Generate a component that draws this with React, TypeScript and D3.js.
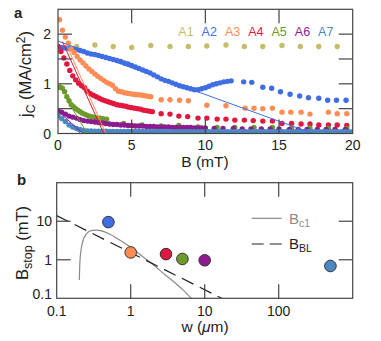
import React, { useEffect, useRef } from 'react';
import * as d3 from 'd3';

// sample names + colours (panel a legend and panel b markers)
const names = ['A1', 'A2', 'A3', 'A4', 'A5', 'A6', 'A7'];
const colors = ['#c6bd6c', '#3f6ee4', '#ff8c55', '#e1173f', '#6c9a2b', '#8b1b8f', '#4a88c2'];

// panel a: jc (MA/cm2) vs B (mT)
const a1B = [1.27, 2.5, 3.75, 5.0, 6.3, 7.6, 8.85, 10.1, 11.4, 12.65, 13.9, 15.2, 16.45, 17.7, 18.95];
const a1J = [1.75, 1.78, 1.75, 1.73, 1.77, 1.75, 1.75, 1.76, 1.78, 1.75, 1.75, 1.77, 1.75, 1.75, 1.75];

const a2B = [0, 0.25, 0.5, 0.75, 1, 1.25, 1.5, 1.75, 2, 2.25, 2.5, 2.75, 3, 3.25, 3.5, 3.75, 4, 4.25, 4.5, 4.75,
  5, 5.25, 5.5, 5.75, 6, 6.25, 6.5, 6.75, 7, 7.25, 7.5, 7.75, 8, 8.25, 8.5, 8.75, 9, 9.25, 9.5, 9.75,
  10, 10.25, 10.5, 10.75, 11, 11.25, 11.5, 11.75,
  12.6, 13.15, 13.9, 14.5, 15.1, 15.75, 16.4, 17.0, 17.7, 18.3, 18.9, 19.55];
const a2J = [1.74, 1.73, 1.72, 1.71, 1.70, 1.69, 1.67, 1.65, 1.62, 1.60, 1.59, 1.57, 1.55, 1.53, 1.51, 1.49, 1.47, 1.45, 1.42, 1.40,
  1.37, 1.34, 1.31, 1.28, 1.25, 1.22, 1.18, 1.14, 1.10, 1.07, 1.05, 1.02, 0.99, 0.96, 0.94, 0.92, 0.90, 0.88, 0.88, 0.90,
  0.92, 0.95, 0.98, 1.00, 1.02, 1.04, 1.05, 1.06,
  1.04, 1.03, 0.93, 0.91, 0.84, 0.79, 0.755, 0.72, 0.71, 0.67, 0.67, 0.67];

const a3B = [0.1, 0.3, 0.5, 0.7, 0.9, 1.1, 1.3, 1.5, 1.7, 1.9, 2.1, 2.3, 2.5, 2.7, 2.9, 3.1, 3.3, 3.5, 3.7, 3.9,
  4.1, 4.3, 4.5, 4.7, 4.9, 5.1, 5.3, 5.5, 5.7, 5.9, 6.1, 6.3,
  7.0, 7.6, 8.25, 8.85, 10.1, 11.4, 12.7, 13.3, 13.9, 14.55, 15.2, 15.8, 16.5, 17.1, 18.35, 18.95, 19.6];
const a3J = [2.29, 2.08, 1.94, 1.82, 1.70, 1.63, 1.55, 1.48, 1.42, 1.36, 1.30, 1.25, 1.20, 1.15, 1.11, 1.07, 1.03, 1.00, 0.97, 0.90,
  0.85, 0.84, 0.82, 0.81, 0.80, 0.79, 0.78, 0.78, 0.77, 0.76, 0.75, 0.74,
  0.68, 0.68, 0.67, 0.66, 0.57, 0.56, 0.51, 0.51, 0.50, 0.51, 0.43, 0.43, 0.43, 0.39, 0.43, 0.40, 0.40];

const a4B = [0, 0.2, 0.4, 0.6, 0.8, 1.0, 1.2, 1.4, 1.6, 1.8, 2.0, 2.2, 2.4, 2.6, 2.8, 3.0, 3.2, 3.4, 3.6, 3.8,
  4.0, 4.2, 4.4, 4.6, 4.8, 5.0, 5.2, 5.4, 5.6, 5.8, 6.0, 6.2, 6.4,
  7.0, 7.6, 8.2, 8.8, 9.5, 10.1, 10.8, 11.4, 12.0, 12.65, 13.25, 13.9, 14.55, 15.2, 15.85, 16.5, 17.1, 17.7, 18.35, 18.95, 19.6];
const a4J = [1.75, 1.65, 1.52, 1.40, 1.27, 1.16, 1.08, 1.01, 0.96, 0.92, 0.85, 0.80, 0.77, 0.74, 0.71, 0.68, 0.66, 0.64, 0.62, 0.60,
  0.58, 0.57, 0.56, 0.55, 0.53, 0.52, 0.51, 0.50, 0.49, 0.47, 0.46, 0.45, 0.44,
  0.40, 0.39, 0.35, 0.34, 0.31, 0.31, 0.29, 0.29, 0.27, 0.27, 0.26, 0.25, 0.25, 0.20, 0.20, 0.19, 0.19, 0.17, 0.17, 0.17, 0.16];

const a5B = [0, 0.15, 0.3, 0.45, 0.6, 0.75, 0.9, 1.05, 1.2, 1.35, 1.5, 1.65, 1.8, 1.95, 2.1, 2.25, 2.4, 2.55, 2.7, 2.85, 3.0, 3.15, 3.3,
  4.45, 5.7, 7.0, 8.2, 9.5, 10.8, 12.0, 13.3, 14.55, 15.85, 17.1, 18.35, 19.6];
const a5J = [0.93, 0.93, 0.91, 0.84, 0.74, 0.66, 0.58, 0.54, 0.50, 0.47, 0.44, 0.41, 0.39, 0.37, 0.35, 0.34, 0.33, 0.32, 0.31, 0.31, 0.30, 0.29, 0.29,
  0.20, 0.17, 0.15, 0.16, 0.13, 0.12, 0.12, 0.12, 0.12, 0.11, 0.11, 0.10, 0.10];

const a6B = [0, 0.25, 0.5, 0.75, 1, 1.25, 1.5, 1.75, 2, 2.25, 2.5, 2.75, 3, 3.25, 3.5, 3.75, 4, 4.25, 4.5, 4.75,
  5, 5.25, 5.5, 5.75, 6, 6.25, 6.5, 6.75, 7, 7.25, 7.5, 7.75, 8, 8.25, 8.5, 8.75, 9, 9.25, 9.5, 9.75, 10,
  10.6, 11.2, 11.9, 12.5, 13.1, 13.8, 14.4, 15.0, 15.7, 16.3, 16.9, 17.6, 18.2, 18.8, 19.5];
const a6J = [0.46, 0.43, 0.39, 0.35, 0.33, 0.31, 0.28, 0.26, 0.25, 0.24, 0.23, 0.22, 0.21, 0.20, 0.19, 0.18, 0.18, 0.17, 0.17, 0.16,
  0.16, 0.15, 0.15, 0.15, 0.14, 0.14, 0.14, 0.13, 0.13, 0.13, 0.13, 0.12, 0.12, 0.12, 0.12, 0.12, 0.12, 0.11, 0.11, 0.11, 0.11,
  0.10, 0.10, 0.10, 0.09, 0.09, 0.09, 0.09, 0.09, 0.08, 0.08, 0.08, 0.08, 0.08, 0.08, 0.08];

const a7B = [0, 0.25, 0.5, 0.75, 1, 1.25, 1.5, 1.75, 2, 2.25, 2.5, 2.75, 3, 3.25, 3.5, 3.75, 4, 4.25, 4.5, 4.75,
  5, 5.25, 5.5, 5.75, 6, 6.25, 6.5, 6.75, 7, 7.25, 7.5, 7.75, 8, 8.25, 8.5, 8.75, 9, 9.25, 9.5, 9.75,
  10, 10.25, 10.5, 10.75, 11, 11.25, 11.5, 11.75, 12, 12.25, 12.5, 12.75, 13, 13.25, 13.5, 13.75, 14, 14.25, 14.5, 14.75,
  15, 15.25, 15.5, 15.75, 16, 16.25, 16.5, 16.75, 17, 17.25, 17.5, 17.75, 18, 18.25, 18.5, 18.75, 19, 19.25, 19.5, 19.75, 20];
const a7J = [0.36, 0.30, 0.24, 0.17, 0.13, 0.10, 0.08, 0.06, 0.05, 0.05, 0.045, 0.045, 0.045, 0.045, 0.04, 0.04, 0.04, 0.04, 0.04, 0.04,
  0.04, 0.04, 0.04, 0.04, 0.04, 0.04, 0.04, 0.04, 0.04, 0.04, 0.035, 0.035, 0.035, 0.035, 0.035, 0.035, 0.035, 0.035, 0.035, 0.035,
  0.035, 0.035, 0.035, 0.035, 0.035, 0.035, 0.035, 0.035, 0.035, 0.035, 0.035, 0.035, 0.035, 0.035, 0.035, 0.035, 0.035, 0.035, 0.035, 0.035,
  0.035, 0.035, 0.035, 0.035, 0.035, 0.035, 0.035, 0.035, 0.035, 0.035, 0.035, 0.035, 0.035, 0.035, 0.035, 0.035, 0.035, 0.035, 0.035, 0.035, 0.035];

// thin straight guide lines in panel a: [B start, B end], [j start, j end]
const fitNames = ['A2', 'A3', 'A4', 'A5', 'A6', 'A7'];
const fitB = [[0, 17.3], [0.55, 3.25], [0.3, 3.1], [0.66, 2.0], [0, 1.7], [0, 1.55]];
const fitJ = [[1.86, 0], [1.8, 0], [1.85, 0], [0.65, 0], [0.45, 0], [0.33, 0]];

// panel b: Bstop (mT) vs width w (um)
const stopNames = ['A2', 'A3', 'A4', 'A5', 'A6', 'A7'];
const stopW = [0.5, 1, 3, 5, 10, 500];
const stopB = [9.5, 1.55, 1.4, 1.05, 0.97, 0.69];

const bc1W = [0.202, 0.205, 0.21, 0.22, 0.25, 0.3, 0.35, 0.4, 0.5, 0.7, 1, 1.5, 2, 3, 4, 5, 6.6];
const bc1B = [0.3, 0.75, 1.4, 2.5, 4.6, 5.8, 5.9, 5.6, 4.8, 3.3, 2.1, 1.15, 0.75, 0.39, 0.25, 0.17, 0.1];
const bblW = [0.1, 17];
const bblB = [14, 0.1];

const xTicksA = [0, 5, 10, 15, 20];
const yTicksA = [0, 0.5, 1, 1.5, 2];
const yLabelsA = [0, 1, 2];
const xTicksB = [0.1, 1, 10, 100];
const yTicksB = [0.1, 1, 10];

const FONT = '"Liberation Sans", Arial, sans-serif';
const AXIS = '#444';

function App() {
  const ref = useRef<SVGSVGElement>(null);

  useEffect(() => {
    const svg = d3.select(ref.current);
    svg.selectAll('*').remove();
    svg.attr('font-family', FONT);

    const colorOf = (n: string) => colors[names.indexOf(n)];

    // ---------- panel a ----------
    const x = d3.scaleLinear().domain([0, 20]).range([58, 352.7]);
    const y = d3.scaleLinear().domain([0, 2.5]).range([133.5, 9.3]);

    svg.append('clipPath').attr('id', 'clipA').append('rect')
      .attr('x', 58).attr('y', 9.3).attr('width', 294.7).attr('height', 124.2);

    const gA = svg.append('g').attr('clip-path', 'url(#clipA)');
    const all = [[a1B, a1J], [a2B, a2J], [a3B, a3J], [a4B, a4J], [a5B, a5J], [a6B, a6J], [a7B, a7J]];
    all.forEach(([bs, js], k) => {
      gA.append('g').selectAll('circle')
        .data(bs.map((b, i) => [b, js[i]]))
        .enter().append('circle')
        .attr('cx', d => x(d[0]))
        .attr('cy', d => y(d[1]))
        .attr('r', 2.7)
        .attr('fill', colors[k]);
    });

    const line = d3.line<number[]>().x(d => x(d[0])).y(d => y(d[1]));
    fitNames.forEach((n, k) => {
      gA.append('path')
        .attr('d', line(fitB[k].map((b, i) => [b, fitJ[k][i]])))
        .attr('fill', 'none')
        .attr('stroke', colorOf(n))
        .attr('stroke-width', 1);
    });

    svg.append('rect').attr('x', 58).attr('y', 9.3).attr('width', 294.7).attr('height', 124.2)
      .attr('fill', 'none').attr('stroke', AXIS).attr('stroke-width', 1.2);

    const tk = svg.append('g').attr('stroke', AXIS).attr('stroke-width', 1.2);
    xTicksA.filter(t => t > 0 && t < 20).forEach(t => {
      tk.append('line').attr('x1', x(t)).attr('x2', x(t)).attr('y1', 133.5).attr('y2', 119.5);
      tk.append('line').attr('x1', x(t)).attr('x2', x(t)).attr('y1', 9.3).attr('y2', 23.3);
    });
    yTicksA.filter(t => t > 0).forEach(t => {
      tk.append('line').attr('x1', 58).attr('x2', 72).attr('y1', y(t)).attr('y2', y(t));
      tk.append('line').attr('x1', 352.7).attr('x2', 338.7).attr('y1', y(t)).attr('y2', y(t));
    });

    svg.append('g').selectAll('text').data(xTicksA).enter().append('text')
      .attr('x', d => x(d)).attr('y', 149.5).attr('text-anchor', 'middle')
      .attr('font-size', 14).attr('fill', '#222').text(d => d);
    svg.append('g').selectAll('text').data(yLabelsA).enter().append('text')
      .attr('x', 51).attr('y', d => y(d) + 5).attr('text-anchor', 'end')
      .attr('font-size', 14).attr('fill', '#222').text(d => d);

    svg.append('text').attr('x', 205).attr('y', 166.5).attr('text-anchor', 'middle')
      .attr('font-size', 15.5).attr('fill', '#222').text('B (mT)');

    const yl = svg.append('text').attr('transform', 'translate(31,74) rotate(-90)')
      .attr('text-anchor', 'middle').attr('font-size', 16.5).attr('fill', '#222');
    yl.append('tspan').text('j');
    yl.append('tspan').attr('font-size', 12).attr('dy', 4).text('C');
    yl.append('tspan').attr('dy', -4).text(' (MA/cm');
    yl.append('tspan').attr('font-size', 12).attr('dy', -6).text('2');
    yl.append('tspan').attr('dy', 6).text(')');

    svg.append('text').attr('x', 14).attr('y', 18).attr('font-size', 15)
      .attr('font-weight', 'bold').attr('fill', '#222').text('a');

    svg.append('g').selectAll('text').data(names).enter().append('text')
      .attr('x', (d, i) => 178.3 + i * 23.3).attr('y', 36)
      .attr('font-size', 12.5).attr('fill', (d, i) => colors[i]).text(d => d);

    // ---------- panel b ----------
    const xb = d3.scaleLog().domain([0.1, 1000]).range([56.7, 352.7]);
    const yb = d3.scaleLog().domain([0.1, 100]).range([298.3, 182.7]);

    svg.append('clipPath').attr('id', 'clipB').append('rect')
      .attr('x', 56.7).attr('y', 182.7).attr('width', 296).attr('height', 115.6);
    const gB = svg.append('g').attr('clip-path', 'url(#clipB)');

    const lineB = d3.line<number[]>().x(d => xb(d[0])).y(d => yb(d[1])).curve(d3.curveMonotoneX);
    gB.append('path')
      .attr('d', lineB(bc1W.map((w, i) => [w, bc1B[i]])))
      .attr('fill', 'none').attr('stroke', '#8a8a8a').attr('stroke-width', 1.2);
    gB.append('path')
      .attr('d', lineB(bblW.map((w, i) => [w, bblB[i]])))
      .attr('fill', 'none').attr('stroke', '#222').attr('stroke-width', 1.2)
      .attr('stroke-dasharray', '13,7');

    gB.append('g').selectAll('circle')
      .data(stopW.map((w, i) => [w, stopB[i]]))
      .enter().append('circle')
      .attr('cx', d => xb(d[0])).attr('cy', d => yb(d[1])).attr('r', 5.8)
      .attr('fill', (d, i) => colorOf(stopNames[i]))
      .attr('stroke', '#333').attr('stroke-width', 1);

    svg.append('rect').attr('x', 56.7).attr('y', 182.7).attr('width', 296).attr('height', 115.6)
      .attr('fill', 'none').attr('stroke', AXIS).attr('stroke-width', 1.2);

    const tkb = svg.append('g').attr('stroke', AXIS).attr('stroke-width', 1.2);
    xTicksB.filter(t => t > 0.1).forEach(t => {
      tkb.append('line').attr('x1', xb(t)).attr('x2', xb(t)).attr('y1', 298.3).attr('y2', 284.3);
      tkb.append('line').attr('x1', xb(t)).attr('x2', xb(t)).attr('y1', 182.7).attr('y2', 196.7);
    });
    yTicksB.filter(t => t > 0.1).forEach(t => {
      tkb.append('line').attr('x1', 56.7).attr('x2', 70.7).attr('y1', yb(t)).attr('y2', yb(t));
      tkb.append('line').attr('x1', 352.7).attr('x2', 338.7).attr('y1', yb(t)).attr('y2', yb(t));
    });

    svg.append('g').selectAll('text').data(xTicksB).enter().append('text')
      .attr('x', d => xb(d)).attr('y', 315.5).attr('text-anchor', 'middle')
      .attr('font-size', 14).attr('fill', '#222').text(d => d);
    svg.append('g').selectAll('text').data(yTicksB).enter().append('text')
      .attr('x', 52).attr('y', d => Math.min(yb(d), 294) + 5).attr('text-anchor', 'end')
      .attr('font-size', 14).attr('fill', '#222').text(d => d);

    const xl = svg.append('text').attr('x', 205).attr('y', 332).attr('text-anchor', 'middle')
      .attr('font-size', 15.5).attr('fill', '#222');
    xl.append('tspan').text('w (');
    xl.append('tspan').attr('font-style', 'italic').text('\u03bc');
    xl.append('tspan').text('m)');

    const ylb = svg.append('text').attr('transform', 'translate(28,243) rotate(-90)')
      .attr('text-anchor', 'middle').attr('font-size', 16.5).attr('fill', '#222');
    ylb.append('tspan').text('B');
    ylb.append('tspan').attr('font-size', 12.5).attr('dy', 4).text('stop');
    ylb.append('tspan').attr('dy', -4).text(' (mT)');

    svg.append('text').attr('x', 17).attr('y', 185).attr('font-size', 15)
      .attr('font-weight', 'bold').attr('fill', '#222').text('b');

    // legend
    svg.append('line').attr('x1', 251.7).attr('x2', 281.7).attr('y1', 218.3).attr('y2', 218.3)
      .attr('stroke', '#8a8a8a').attr('stroke-width', 1.2);
    svg.append('line').attr('x1', 251.7).attr('x2', 281.7).attr('y1', 244).attr('y2', 244)
      .attr('stroke', '#222').attr('stroke-width', 1.2).attr('stroke-dasharray', '12,6');
    const l1 = svg.append('text').attr('x', 289).attr('y', 223.5).attr('font-size', 15).attr('fill', '#8a8a8a');
    l1.append('tspan').text('B');
    l1.append('tspan').attr('font-size', 10.5).attr('dy', 3).text('c1');
    const l2 = svg.append('text').attr('x', 289).attr('y', 249).attr('font-size', 15).attr('fill', '#222');
    l2.append('tspan').text('B');
    l2.append('tspan').attr('font-size', 10.5).attr('dy', 3).text('BL');
  }, []);

  return (
    <svg ref={ref} width={381} height={341}
      style={{ position: 'absolute', left: 0, top: 0, background: '#fff' }} />
  );
}

export default App;
